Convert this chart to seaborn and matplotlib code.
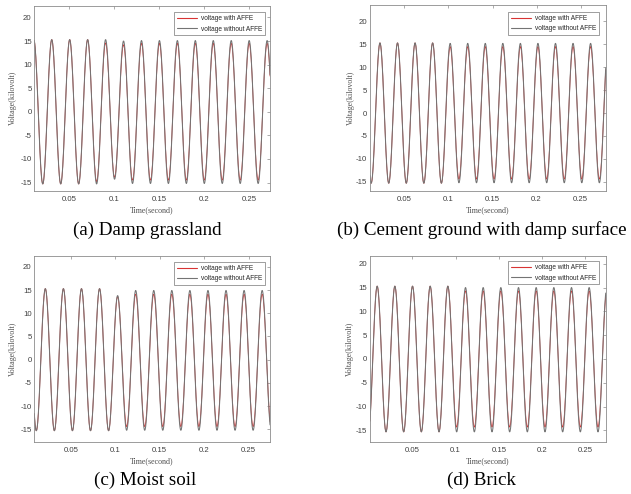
import numpy as np
import pandas as pd
import matplotlib
matplotlib.use("Agg")
import matplotlib.pyplot as plt
import seaborn as sns

# Each waveform is given by its successive extrema (kV), spaced half a cycle apart.
# A: damp grassland (first extremum is a trough)
A_T0, A_HALF = 0.0003, 0.0100
A_WITHOUT = [-15.3, 15.3, -15.3, 15.3, -15.3, 15.3, -15.3, 15.3, -15.3, 15.3,
             -14.3, 15.0, -15.2, 15.1, -15.2, 15.1, -15.2, 15.1, -15.2, 15.1,
             -15.2, 15.1, -15.2, 15.1, -15.2, 15.1, -15.2, 15.1, -15.2]
A_WITH = [-15.3, 15.3, -15.3, 15.3, -15.3, 15.3, -15.3, 15.3, -14.8, 14.6,
          -13.9, 14.2, -14.5, 14.5, -14.5, 14.5, -14.5, 14.5, -14.5, 14.5,
          -14.5, 14.5, -14.5, 14.5, -14.5, 14.5, -14.5, 14.5, -14.5]

# B: cement ground with damp surface (first extremum is a peak)
B_T0, B_HALF = 0.0025, 0.00995
B_WITHOUT = [15.3, -15.3, 15.3, -15.3, 15.3, -15.3, 15.3, -15.3, 15.3, -15.3,
             15.2, -15.2, 15.2, -15.2, 15.2, -15.2, 15.2, -15.2, 15.2, -15.2,
             15.2, -15.2, 15.2, -15.2, 15.2, -15.2, 15.2, -15.2, 15.2]
B_WITH = [15.3, -15.3, 15.3, -15.3, 15.3, -15.3, 15.3, -15.3, 15.3, -15.3,
          14.5, -14.4, 14.5, -14.4, 14.5, -14.4, 14.5, -14.4, 14.5, -14.4,
          14.5, -14.4, 14.5, -14.4, 14.5, -14.4, 14.5, -14.4, 14.5]

# C: moist soil (first extremum is a peak)
C_T0, C_HALF = 0.00096, 0.01017
C_WITHOUT = [15.3, -15.3, 15.3, -15.3, 15.3, -15.3, 15.3, -15.3, 15.3, -15.3,
             13.8, -15.2, 14.9, -15.2, 14.9, -15.2, 14.9, -15.2, 14.9, -15.2,
             14.9, -15.2, 14.9, -15.2, 14.9, -15.2, 14.9, -15.2]
C_WITH = [15.3, -15.3, 15.3, -15.3, 15.3, -15.3, 15.3, -15.3, 15.3, -15.3,
          13.6, -14.4, 14.1, -14.4, 14.1, -14.4, 14.1, -14.4, 14.1, -14.4,
          14.1, -14.4, 14.1, -14.4, 14.1, -14.4, 14.1, -14.4]

# D: brick (first extremum is a trough)
D_T0, D_HALF = -0.0009, 0.01022
D_WITHOUT = [-15.3, 15.3, -15.3, 15.3, -15.3, 15.3, -15.3, 15.3, -15.3, 15.3,
             -15.3, 15.0, -15.3, 15.0, -15.3, 15.0, -15.3, 15.0, -15.3, 15.0,
             -15.3, 15.0, -15.3, 15.0, -15.3, 15.0, -15.3, 15.0]
D_WITH = [-15.3, 15.3, -15.3, 15.3, -15.3, 15.3, -15.3, 15.3, -15.3, 15.3,
          -14.3, 14.3, -14.3, 14.3, -14.3, 14.3, -14.3, 14.3, -14.3, 14.3,
          -14.3, 14.3, -14.3, 14.3, -14.3, 14.3, -14.3, 14.3]

CAPTIONS = ["(a) Damp grassland", "(b) Cement ground with damp surface",
            "(c) Moist soil", "(d) Brick"]
SERIES = ["voltage with AFFE", "voltage without AFFE"]
Y_TICKS = [-15, -10, -5, 0, 5, 10, 15, 20]
X_TICKS = [0.05, 0.10, 0.15, 0.20, 0.25]
X_TICK_LABELS = ["0.05", "0.1", "0.15", "0.2", "0.25"]


def trace(t0, half, extrema, n=40):
    """Join successive extrema with half-cosine arcs."""
    ts, vs = [], []
    s = np.linspace(0.0, 1.0, n, endpoint=False)
    for i in range(len(extrema) - 1):
        a, b = extrema[i], extrema[i + 1]
        ts.append(t0 + half * (i + s))
        vs.append((a + b) / 2 + (a - b) / 2 * np.cos(np.pi * s))
    ts.append([t0 + half * (len(extrema) - 1)])
    vs.append([extrema[-1]])
    return np.concatenate(ts), np.concatenate(vs)


def frame(t0, half, with_ext, without_ext):
    parts = []
    for name, ext in zip(SERIES, [with_ext, without_ext]):
        t, v = trace(t0, half, ext)
        parts.append(pd.DataFrame({"t": t, "v": v, "series": name}))
    return pd.concat(parts, ignore_index=True)


# box = (left, top, right, bottom) in pixels; ylab_x / xlab_y are label centres in pixels
panels = [
    dict(df=frame(A_T0, A_HALF, A_WITH, A_WITHOUT), xlim=(0.0109, 0.2735), ylim=(-16.8, 22.5),
         box=(34.33, 5.67, 270.0, 191.0), leg=(265.0, 12.3), cap=(147.0, 230.0),
         ylab_x=13.3, xlab_y=210.0),
    dict(df=frame(B_T0, B_HALF, B_WITH, B_WITHOUT), xlim=(0.0111, 0.2783), ylim=(-17.0, 23.5),
         box=(370.0, 5.33, 605.67, 191.0), leg=(599.3, 12.0), cap=(481.5, 230.0),
         ylab_x=350.7, xlab_y=210.0),
    dict(df=frame(C_T0, C_HALF, C_WITH, C_WITHOUT), xlim=(0.0089, 0.2742), ylim=(-17.8, 22.4),
         box=(34.33, 255.67, 270.0, 442.33), leg=(265.0, 262.0), cap=(145.0, 480.0),
         ylab_x=13.3, xlab_y=460.7),
    dict(df=frame(D_T0, D_HALF, D_WITH, D_WITHOUT), xlim=(0.001, 0.2737), ylim=(-17.5, 21.7),
         box=(370.0, 255.67, 605.67, 442.33), leg=(599.3, 261.3), cap=(481.8, 480.0),
         ylab_x=350.3, xlab_y=460.7),
]

sns.set_style("white")
plt.rcParams["axes.unicode_minus"] = False
plt.rcParams["font.family"] = ["Liberation Sans", "DejaVu Sans"]

W, H = 631, 494
fig = plt.figure(figsize=(W / 100, H / 100), dpi=100)
palette = {SERIES[0]: "#d83434", SERIES[1]: "#747474"}
SPINE = "#8c8c8c"

for idx, p in enumerate(panels):
    x0, y0, x1, y1 = p["box"]
    ax = fig.add_axes([x0 / W, 1 - y1 / H, (x1 - x0) / W, (y1 - y0) / H])
    sns.lineplot(data=p["df"], x="t", y="v", hue="series", hue_order=SERIES,
                 palette=palette, estimator=None, sort=False, ax=ax)
    for line, lw in zip(ax.get_lines(), [0.6, 0.75]):
        line.set_linewidth(lw)
    ax.set_xlim(*p["xlim"])
    ax.set_ylim(*p["ylim"])
    ax.set_xticks(X_TICKS)
    ax.set_xticklabels(X_TICK_LABELS)
    ax.set_yticks(Y_TICKS)
    ax.tick_params(axis="both", direction="in", length=2.5, width=0.5, color=SPINE,
                   labelsize=5.6, labelcolor="#404040", top=True, right=True)
    ax.tick_params(axis="x", pad=3.5)
    ax.tick_params(axis="y", pad=2)
    for sp in ax.spines.values():
        sp.set_visible(True)
        sp.set_color(SPINE)
        sp.set_linewidth(0.6)
    ax.set_xlabel("Time(second)", family="Liberation Serif", fontsize=5.8,
                  color="#505050", va="center")
    ax.set_ylabel("Voltage(kilovolt)", family="Liberation Serif", fontsize=5.8,
                  color="#505050", va="center")
    ax.xaxis.set_label_coords(0.5, -(p["xlab_y"] - y1) / (y1 - y0))
    ax.yaxis.set_label_coords(-(x0 - p["ylab_x"]) / (x1 - x0), 0.5)

    lx, ly = p["leg"]
    sns.move_legend(ax, "upper right",
                    bbox_to_anchor=((lx - x0) / (x1 - x0), 1 - (ly - y0) / (y1 - y0)),
                    borderaxespad=0, title=None, frameon=True, fancybox=False,
                    fontsize=4.7, handlelength=3.1, handletextpad=0.6,
                    borderpad=0.45, labelspacing=0.5)
    leg = ax.get_legend()
    leg.get_frame().set_edgecolor("#555555")
    leg.get_frame().set_linewidth(0.5)
    for line in leg.get_lines():
        line.set_linewidth(0.8)

    cx, cy = p["cap"]
    fig.text(cx / W, 1 - cy / H, CAPTIONS[idx], family="Liberation Serif",
             fontsize=13.7, ha="center", va="center", color="black")

fig.savefig("out.png", dpi=100, facecolor="white")
